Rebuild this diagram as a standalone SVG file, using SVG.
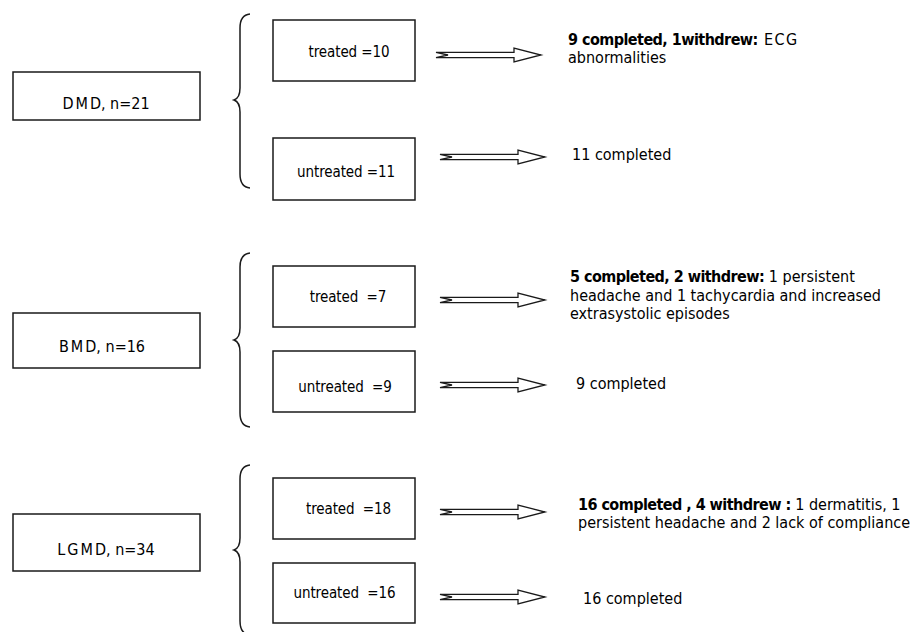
<svg xmlns="http://www.w3.org/2000/svg" width="913" height="632" viewBox="0 0 913 632">
<style>
.box{fill:#fff;stroke:#1a1a1a;stroke-width:1.5}
.brace{fill:none;stroke:#1a1a1a;stroke-width:1.5}
.arrow{fill:#fff;stroke:#1a1a1a;stroke-width:1.3;stroke-linejoin:miter}
.grp{font-family:"DejaVu Sans Condensed","DejaVu Sans",sans-serif;font-stretch:condensed;font-size:16px;fill:#000;text-anchor:middle;white-space:pre}
.sp{letter-spacing:2px}
.sub{font-family:"DejaVu Sans Condensed","DejaVu Sans",sans-serif;font-stretch:condensed;font-size:15px;letter-spacing:-0.1px;fill:#000;text-anchor:middle;white-space:pre}
.res{font-family:"DejaVu Sans Condensed","DejaVu Sans",sans-serif;font-stretch:condensed;font-size:16px;fill:#000;white-space:pre}
.b{font-weight:bold;letter-spacing:-0.55px}
</style>
<defs>
<path id="arr" class="arrow" d="M0,-2.6 L78,-2.6 L78,-7 L105,0 L78,7 L78,2.6 L0,2.6 L12,0 Z"/>
</defs>
<rect width="913" height="632" fill="#fff"/>

<g id="connectors">
<path class="brace" d="M250,14 Q240,15 240,28 L240,88 Q240,98 234,100 Q240,102 240,112 L240,174 Q240,187 250,188"/>
<path class="brace" d="M250,253 Q240,254 240,267 L240,328 Q240,338 234,340 Q240,342 240,352 L240,413 Q240,426 250,427"/>
<path class="brace" d="M250,465 Q240,466 240,479 L240,538 Q240,548 234,550 Q240,552 240,562 L240,621 Q240,634 250,635"/>
<use href="#arr" x="436" y="55"/>
<use href="#arr" x="440" y="157"/>
<use href="#arr" x="440" y="300"/>
<use href="#arr" x="440" y="385"/>
<use href="#arr" x="440" y="512"/>
<use href="#arr" x="440" y="597"/>
</g>

<g id="dmd">
<rect class="box" x="13" y="72" width="187" height="48"/>
<text class="grp" x="106" y="109"><tspan class="sp">DM</tspan>D, n=21</text>
</g>
<g id="dmd-treated">
<rect class="box" x="273" y="20" width="142" height="61"/>
<text class="sub" x="349" y="57">treated =10</text>
</g>
<g id="dmd-untreated">
<rect class="box" x="273" y="138" width="142" height="62"/>
<text class="sub" x="346" y="177">untreated =11</text>
</g>
<g id="dmd-treated-result">
<text class="res" x="568" y="45"><tspan class="b">9 completed, 1withdrew:</tspan><tspan letter-spacing="1.5px"> ECG</tspan></text>
<text class="res" x="568" y="63">abnormalities</text>
</g>
<g id="dmd-untreated-result">
<text class="res" x="572" y="160">11 completed</text>
</g>

<g id="bmd">
<rect class="box" x="13" y="313" width="187" height="55"/>
<text class="grp" x="102" y="352"><tspan class="sp">BM</tspan>D, n=16</text>
</g>
<g id="bmd-treated">
<rect class="box" x="273" y="266" width="142" height="61"/>
<text class="sub" x="348" y="302">treated  =7</text>
</g>
<g id="bmd-untreated">
<rect class="box" x="273" y="351" width="142" height="61"/>
<text class="sub" x="345" y="392">untreated  =9</text>
</g>
<g id="bmd-treated-result">
<text class="res" x="570" y="282"><tspan class="b">5 completed, 2 withdrew:</tspan> 1 persistent</text>
<text class="res" x="570" y="300.5">headache and 1 tachycardia and increased</text>
<text class="res" x="570" y="319">extrasystolic episodes</text>
</g>
<g id="bmd-untreated-result">
<text class="res" x="576" y="389">9 completed</text>
</g>

<g id="lgmd">
<rect class="box" x="13" y="514" width="187" height="57"/>
<text class="grp" x="106" y="555"><tspan class="sp">LGM</tspan>D, n=34</text>
</g>
<g id="lgmd-treated">
<rect class="box" x="273" y="478" width="142" height="61"/>
<text class="sub" x="348.5" y="514">treated  =18</text>
</g>
<g id="lgmd-untreated">
<rect class="box" x="273" y="563" width="142" height="60"/>
<text class="sub" x="344.5" y="598">untreated  =16</text>
</g>
<g id="lgmd-treated-result">
<text class="res" x="578" y="510"><tspan class="b">16 completed , 4 withdrew :</tspan> 1 dermatitis, 1</text>
<text class="res" x="578" y="528">persistent headache and 2 lack of compliance</text>
</g>
<g id="lgmd-untreated-result">
<text class="res" x="583" y="604">16 completed</text>
</g>
</svg>
